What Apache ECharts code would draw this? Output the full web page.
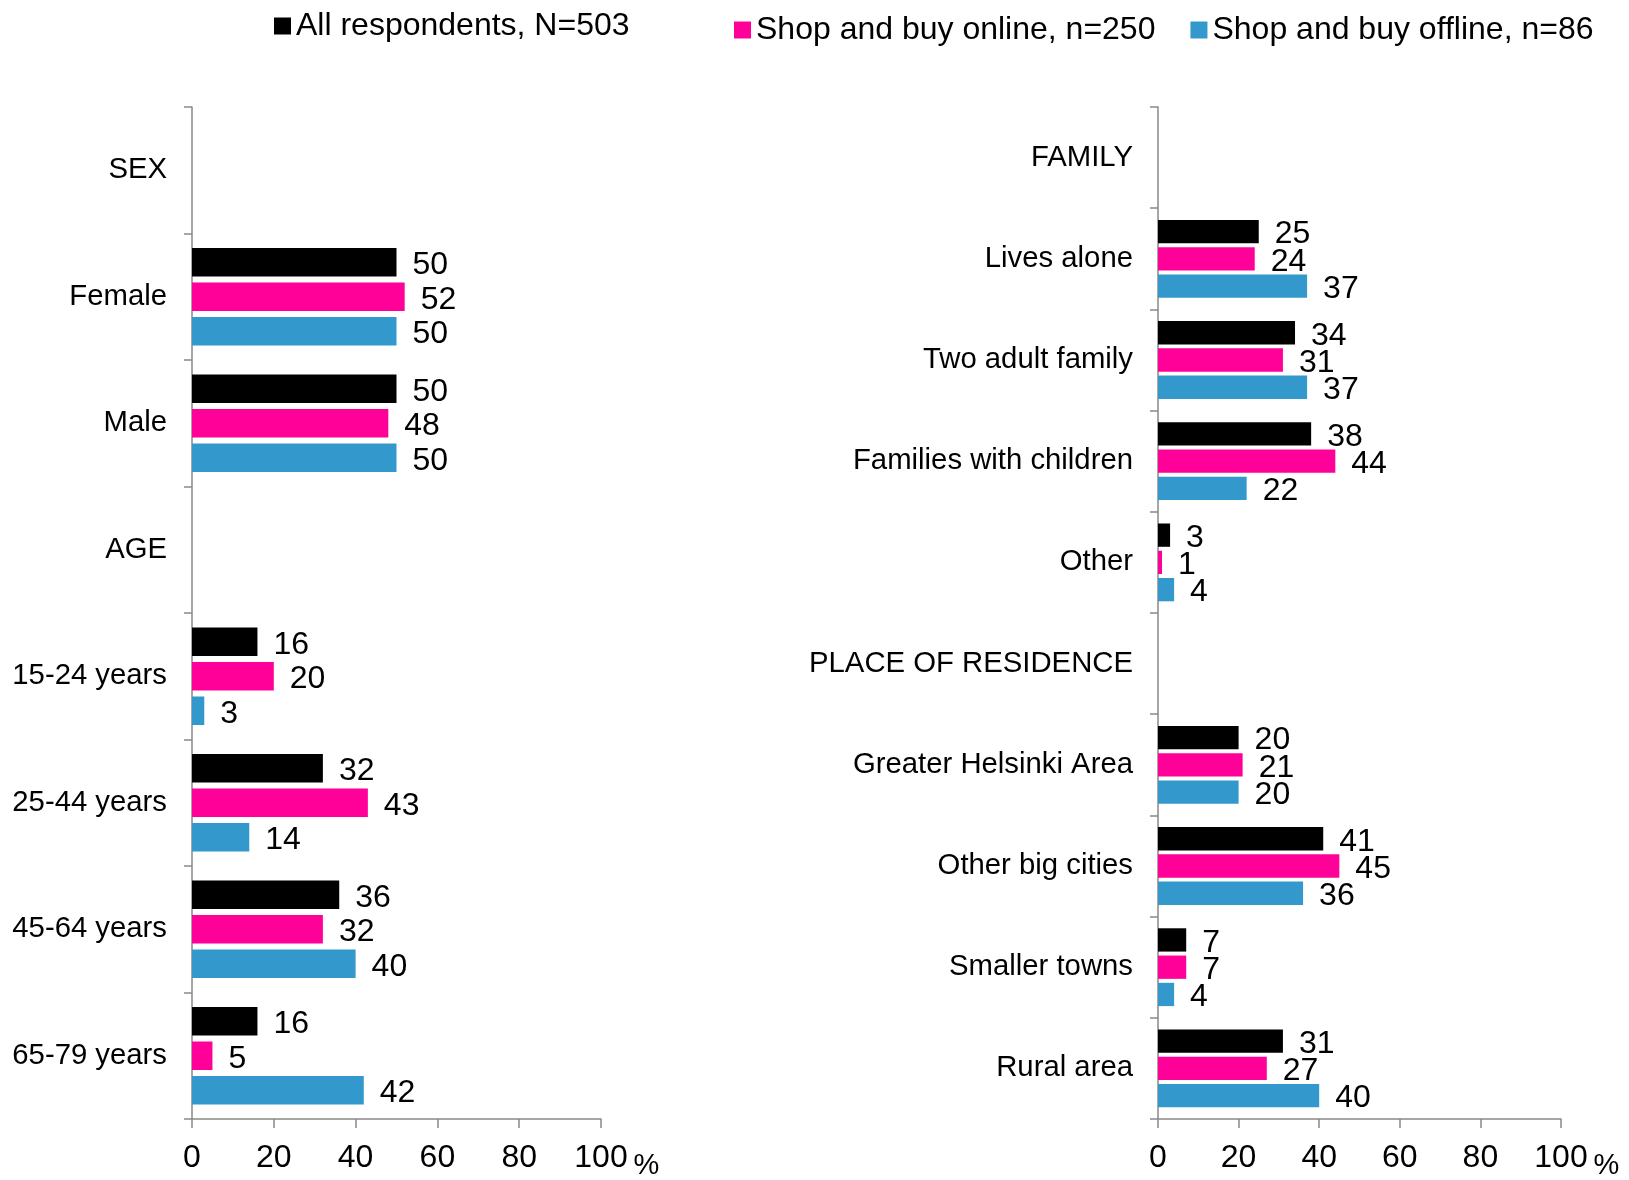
<!DOCTYPE html>
<html>
<head>
<meta charset="utf-8">
<script src="https://cdn.jsdelivr.net/npm/echarts@6/dist/echarts.min.js"></script>
<style>
html,body{margin:0;padding:0;background:#fff;}
#chart{width:1629px;height:1180px;}
</style>
</head>
<body>
<div id="chart"></div>
<script>
// ---- Data ----
const seriesNames = ['All respondents, N=503', 'Shop and buy online, n=250', 'Shop and buy offline, n=86'];
const seriesColors = ['#000000', '#FF0099', '#3399CC'];

const leftCategories = ['SEX', 'Female', 'Male', 'AGE', '15-24 years', '25-44 years', '45-64 years', '65-79 years'];
const leftAll     = [null, 50, 50, null, 16, 32, 36, 16];
const leftOnline  = [null, 52, 48, null, 20, 43, 32, 5];
const leftOffline = [null, 50, 50, null, 3, 14, 40, 42];

const rightCategories = ['FAMILY', 'Lives alone', 'Two adult family', 'Families with children', 'Other',
  'PLACE OF RESIDENCE', 'Greater Helsinki Area', 'Other big cities', 'Smaller towns', 'Rural area'];
const rightAll     = [null, 25, 34, 38, 3, null, 20, 41, 7, 31];
const rightOnline  = [null, 24, 31, 44, 1, null, 21, 45, 7, 27];
const rightOffline = [null, 37, 37, 22, 4, null, 20, 36, 4, 40];

const xTicks = [0, 20, 40, 60, 80, 100];

// ---- Chart ----
const FONT = "'Liberation Sans', Arial, sans-serif";
const AXIS_COLOR = '#898989';
const chart = echarts.init(document.getElementById('chart'), null, {renderer: 'canvas'});

function valueAxis(gridIndex, nameGap) {
  return {
    type: 'value', gridIndex: gridIndex,
    min: xTicks[0], max: xTicks[xTicks.length - 1], interval: xTicks[1] - xTicks[0],
    splitLine: {show: false},
    axisLine: {show: true, lineStyle: {color: AXIS_COLOR, width: 1.5}},
    axisTick: {show: true, length: 9, lineStyle: {color: AXIS_COLOR, width: 1.5}},
    axisLabel: {color: '#000', fontSize: 32, fontFamily: FONT, margin: 23},
    name: '%', nameLocation: 'end', nameGap: nameGap,
    nameTextStyle: {color: '#000', fontSize: 29, fontFamily: FONT, verticalAlign: 'top', padding: [32, 0, 0, 0]}
  };
}
function catAxis(gridIndex, cats) {
  return {
    type: 'category', gridIndex: gridIndex, data: cats, inverse: true,
    axisLine: {show: true, lineStyle: {color: AXIS_COLOR, width: 1.5}},
    axisTick: {show: true, length: 8, alignWithLabel: false, lineStyle: {color: AXIS_COLOR, width: 1.5}},
    axisLabel: {color: '#000', fontSize: 29.3, fontFamily: FONT, margin: 25, padding: [4, 0, 0, 0]}
  };
}
function barSeries(i, gridIndex, data, barWidth, barGap) {
  return {
    type: 'bar', name: seriesNames[i], data: data,
    xAxisIndex: gridIndex, yAxisIndex: gridIndex,
    barWidth: barWidth, barGap: barGap,
    itemStyle: {color: seriesColors[i]},
    label: {show: true, position: 'right', distance: 16, offset: [0, 3], color: '#000', fontSize: 32, fontFamily: FONT},
    animation: false
  };
}

const option = {
  backgroundColor: '#fff',
  animation: false,
  legend: [
    {
      data: [seriesNames[0]], left: 269, top: 5, icon: 'rect', itemWidth: 17, itemHeight: 17,
      textStyle: {color: '#000', fontSize: 32, fontFamily: FONT, lineHeight: 32}
    },
    {
      data: [seriesNames[1], seriesNames[2]], left: 729, top: 9, icon: 'rect', itemWidth: 17, itemHeight: 17,
      itemGap: 35,
      textStyle: {color: '#000', fontSize: 32, fontFamily: FONT, lineHeight: 32}
    }
  ],
  grid: [
    {left: 192, top: 107, width: 409, height: 1014},
    {left: 1158, top: 107, width: 403, height: 1014}
  ],
  xAxis: [valueAxis(0, 29), valueAxis(1, 30)],
  yAxis: [catAxis(0, leftCategories), catAxis(1, rightCategories)],
  series: [
    barSeries(0, 0, leftAll, 28.5, '21%'),
    barSeries(1, 0, leftOnline, 28.5, '21%'),
    barSeries(2, 0, leftOffline, 28.5, '21%'),
    barSeries(0, 1, rightAll, 23.3, '17%'),
    barSeries(1, 1, rightOnline, 23.3, '17%'),
    barSeries(2, 1, rightOffline, 23.3, '17%')
  ]
};
chart.setOption(option);
</script>
</body>
</html>
